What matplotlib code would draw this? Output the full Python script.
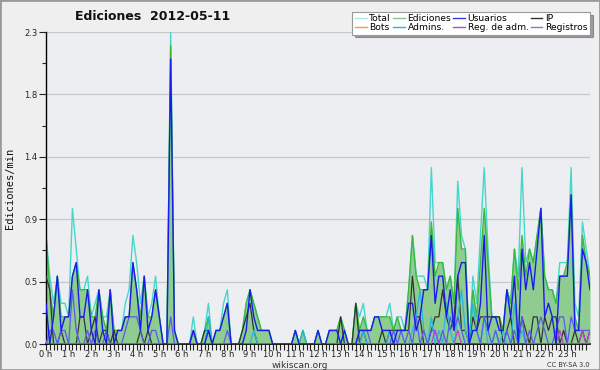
import matplotlib
matplotlib.use("Agg")
import matplotlib.pyplot as plt
import numpy as np
from matplotlib.lines import Line2D
from matplotlib.patches import Rectangle

# 10-minute bins, 0:00 .. 24:00 (edits per minute)
total = [0.8, 0.5, 0.3, 0.5, 0.3, 0.3,
         0.2, 1.0, 0.7, 0.4, 0.4, 0.5,
         0.2, 0.3, 0.4, 0.2, 0.2, 0.4,
         0.1, 0.1, 0.1, 0.3, 0.4, 0.8,
         0.6, 0.3, 0.5, 0.2, 0.3, 0.5,
         0.2, 0.0, 0.0, 2.3, 0.1, 0.0,
         0.0, 0.0, 0.0, 0.2, 0.0, 0.0,
         0.1, 0.3, 0.0, 0.1, 0.1, 0.3,
         0.4, 0.0, 0.0, 0.0, 0.1, 0.3,
         0.4, 0.3, 0.2, 0.1, 0.1, 0.1,
         0.0, 0.0, 0.0, 0.0, 0.0, 0.0,
         0.1, 0.0, 0.1, 0.0, 0.0, 0.0,
         0.1, 0.0, 0.0, 0.1, 0.1, 0.1,
         0.2, 0.1, 0.0, 0.0, 0.3, 0.2,
         0.3, 0.1, 0.1, 0.2, 0.2, 0.2,
         0.2, 0.3, 0.1, 0.2, 0.2, 0.1,
         0.4, 0.8, 0.5, 0.5, 0.5, 0.4,
         1.3, 0.6, 0.6, 0.6, 0.4, 0.5,
         0.3, 1.2, 0.8, 0.7, 0.0, 0.5,
         0.3, 0.8, 1.3, 0.7, 0.2, 0.2,
         0.2, 0.1, 0.4, 0.3, 0.7, 0.5,
         1.3, 0.6, 0.7, 0.6, 0.8, 1.0,
         0.5, 0.4, 0.4, 0.3, 0.6, 0.6,
         0.6, 1.3, 0.3, 0.2, 0.9, 0.7,
         0.5]

ediciones = [0.8, 0.4, 0.2, 0.5, 0.2, 0.2,
             0.2, 0.5, 0.6, 0.4, 0.4, 0.4,
             0.2, 0.2, 0.4, 0.2, 0.1, 0.4,
             0.1, 0.1, 0.1, 0.2, 0.2, 0.6,
             0.4, 0.2, 0.5, 0.2, 0.2, 0.4,
             0.2, 0.0, 0.0, 2.2, 0.1, 0.0,
             0.0, 0.0, 0.0, 0.1, 0.0, 0.0,
             0.1, 0.2, 0.0, 0.1, 0.1, 0.2,
             0.3, 0.0, 0.0, 0.0, 0.1, 0.3,
             0.4, 0.3, 0.2, 0.1, 0.1, 0.1,
             0.0, 0.0, 0.0, 0.0, 0.0, 0.0,
             0.1, 0.0, 0.1, 0.0, 0.0, 0.0,
             0.1, 0.0, 0.0, 0.1, 0.1, 0.1,
             0.2, 0.1, 0.0, 0.0, 0.3, 0.1,
             0.2, 0.1, 0.1, 0.2, 0.2, 0.2,
             0.2, 0.2, 0.1, 0.2, 0.1, 0.1,
             0.4, 0.8, 0.5, 0.4, 0.4, 0.4,
             0.9, 0.5, 0.6, 0.6, 0.4, 0.5,
             0.3, 1.0, 0.7, 0.7, 0.0, 0.4,
             0.2, 0.6, 1.0, 0.6, 0.2, 0.2,
             0.2, 0.1, 0.4, 0.3, 0.7, 0.4,
             0.8, 0.5, 0.7, 0.6, 0.8, 1.0,
             0.5, 0.4, 0.4, 0.3, 0.5, 0.5,
             0.6, 1.1, 0.2, 0.1, 0.8, 0.6,
             0.5]

usuarios = [0.3, 0.0, 0.2, 0.5, 0.1, 0.2,
            0.2, 0.5, 0.6, 0.2, 0.2, 0.4,
            0.1, 0.0, 0.4, 0.1, 0.0, 0.4,
            0.0, 0.1, 0.1, 0.2, 0.2, 0.6,
            0.4, 0.1, 0.5, 0.1, 0.2, 0.4,
            0.2, 0.0, 0.0, 2.1, 0.1, 0.0,
            0.0, 0.0, 0.0, 0.1, 0.0, 0.0,
            0.0, 0.1, 0.0, 0.1, 0.1, 0.2,
            0.3, 0.0, 0.0, 0.0, 0.0, 0.1,
            0.4, 0.2, 0.1, 0.1, 0.1, 0.1,
            0.0, 0.0, 0.0, 0.0, 0.0, 0.0,
            0.1, 0.0, 0.0, 0.0, 0.0, 0.0,
            0.1, 0.0, 0.0, 0.1, 0.1, 0.1,
            0.0, 0.1, 0.0, 0.0, 0.0, 0.1,
            0.1, 0.1, 0.1, 0.2, 0.2, 0.1,
            0.1, 0.1, 0.0, 0.1, 0.1, 0.1,
            0.3, 0.3, 0.1, 0.2, 0.4, 0.4,
            0.8, 0.3, 0.5, 0.5, 0.2, 0.4,
            0.1, 0.5, 0.6, 0.6, 0.0, 0.1,
            0.1, 0.3, 0.8, 0.1, 0.2, 0.2,
            0.1, 0.1, 0.4, 0.2, 0.5, 0.0,
            0.7, 0.4, 0.6, 0.4, 0.7, 1.0,
            0.2, 0.3, 0.2, 0.0, 0.5, 0.5,
            0.5, 1.1, 0.1, 0.1, 0.7, 0.6,
            0.4]

ip = [0.5, 0.4, 0.0, 0.0, 0.1, 0.0,
      0.0, 0.0, 0.0, 0.2, 0.2, 0.0,
      0.1, 0.2, 0.0, 0.1, 0.1, 0.0,
      0.1, 0.0, 0.0, 0.0, 0.0, 0.0,
      0.0, 0.1, 0.0, 0.1, 0.0, 0.0,
      0.0, 0.0, 0.0, 0.0, 0.0, 0.0,
      0.0, 0.0, 0.0, 0.0, 0.0, 0.0,
      0.1, 0.1, 0.0, 0.0, 0.0, 0.0,
      0.0, 0.0, 0.0, 0.0, 0.1, 0.2,
      0.3, 0.1, 0.0, 0.0, 0.0, 0.0,
      0.0, 0.0, 0.0, 0.0, 0.0, 0.0,
      0.0, 0.0, 0.0, 0.0, 0.0, 0.0,
      0.0, 0.0, 0.0, 0.0, 0.0, 0.0,
      0.2, 0.0, 0.0, 0.0, 0.3, 0.0,
      0.1, 0.0, 0.0, 0.0, 0.0, 0.1,
      0.0, 0.1, 0.1, 0.1, 0.1, 0.1,
      0.1, 0.5, 0.2, 0.2, 0.0, 0.0,
      0.1, 0.2, 0.2, 0.4, 0.2, 0.1,
      0.2, 0.5, 0.1, 0.1, 0.0, 0.2,
      0.1, 0.2, 0.2, 0.2, 0.2, 0.2,
      0.2, 0.0, 0.1, 0.2, 0.0, 0.0,
      0.2, 0.1, 0.0, 0.2, 0.2, 0.0,
      0.2, 0.1, 0.2, 0.2, 0.0, 0.1,
      0.0, 0.0, 0.1, 0.0, 0.1, 0.0,
      0.1]

registros = [0.0, 0.1, 0.1, 0.0, 0.1, 0.1,
             0.0, 0.4, 0.1, 0.0, 0.0, 0.1,
             0.0, 0.1, 0.0, 0.0, 0.1, 0.0,
             0.0, 0.0, 0.0, 0.1, 0.2, 0.2,
             0.2, 0.1, 0.0, 0.0, 0.1, 0.1,
             0.0, 0.0, 0.0, 0.2, 0.0, 0.0,
             0.0, 0.0, 0.0, 0.1, 0.0, 0.0,
             0.0, 0.0, 0.0, 0.0, 0.0, 0.0,
             0.1, 0.0, 0.0, 0.0, 0.0, 0.0,
             0.0, 0.0, 0.0, 0.0, 0.0, 0.0,
             0.0, 0.0, 0.0, 0.0, 0.0, 0.0,
             0.0, 0.0, 0.0, 0.0, 0.0, 0.0,
             0.0, 0.0, 0.0, 0.0, 0.0, 0.0,
             0.0, 0.0, 0.0, 0.0, 0.0, 0.1,
             0.1, 0.1, 0.0, 0.0, 0.0, 0.0,
             0.0, 0.0, 0.1, 0.0, 0.1, 0.0,
             0.1, 0.0, 0.2, 0.0, 0.1, 0.0,
             0.1, 0.1, 0.0, 0.1, 0.0, 0.2,
             0.1, 0.2, 0.1, 0.0, 0.0, 0.1,
             0.1, 0.0, 0.2, 0.1, 0.0, 0.1,
             0.0, 0.0, 0.1, 0.0, 0.1, 0.0,
             0.2, 0.0, 0.1, 0.0, 0.1, 0.2,
             0.1, 0.0, 0.0, 0.1, 0.2, 0.2,
             0.0, 0.2, 0.1, 0.1, 0.1, 0.1,
             0.1]

admins = [0.0, 0.0, 0.0, 0.0, 0.0, 0.0,
          0.0, 0.0, 0.0, 0.0, 0.0, 0.0,
          0.0, 0.0, 0.0, 0.0, 0.0, 0.0,
          0.0, 0.0, 0.0, 0.0, 0.0, 0.0,
          0.0, 0.0, 0.0, 0.0, 0.0, 0.0,
          0.0, 0.0, 0.0, 0.0, 0.0, 0.0,
          0.0, 0.0, 0.0, 0.0, 0.0, 0.0,
          0.0, 0.2, 0.0, 0.0, 0.0, 0.0,
          0.0, 0.0, 0.0, 0.0, 0.0, 0.0,
          0.0, 0.1, 0.0, 0.0, 0.0, 0.0,
          0.0, 0.0, 0.0, 0.0, 0.0, 0.0,
          0.0, 0.0, 0.1, 0.0, 0.0, 0.0,
          0.0, 0.0, 0.0, 0.0, 0.0, 0.0,
          0.0, 0.0, 0.0, 0.0, 0.0, 0.0,
          0.1, 0.0, 0.0, 0.0, 0.0, 0.0,
          0.0, 0.1, 0.0, 0.0, 0.0, 0.0,
          0.0, 0.1, 0.2, 0.4, 0.1, 0.0,
          0.2, 0.0, 0.1, 0.0, 0.3, 0.1,
          0.0, 0.2, 0.4, 0.1, 0.0, 0.3,
          0.1, 0.0, 0.2, 0.0, 0.0, 0.1,
          0.0, 0.1, 0.0, 0.0, 0.3, 0.0,
          0.1, 0.0, 0.0, 0.0, 0.0, 0.0,
          0.0, 0.0, 0.0, 0.0, 0.0, 0.0,
          0.0, 0.0, 0.0, 0.0, 0.0, 0.0,
          0.0]

reg_adm = [0.0, 0.0, 0.0, 0.0, 0.0, 0.0,
           0.0, 0.0, 0.0, 0.0, 0.0, 0.0,
           0.0, 0.0, 0.0, 0.0, 0.0, 0.0,
           0.0, 0.0, 0.0, 0.0, 0.0, 0.0,
           0.0, 0.0, 0.0, 0.0, 0.0, 0.0,
           0.0, 0.0, 0.0, 0.0, 0.0, 0.0,
           0.0, 0.0, 0.0, 0.0, 0.0, 0.0,
           0.0, 0.0, 0.0, 0.0, 0.0, 0.0,
           0.0, 0.0, 0.0, 0.0, 0.0, 0.0,
           0.0, 0.0, 0.0, 0.0, 0.0, 0.0,
           0.0, 0.0, 0.0, 0.0, 0.0, 0.0,
           0.0, 0.0, 0.0, 0.0, 0.0, 0.0,
           0.0, 0.0, 0.0, 0.0, 0.0, 0.0,
           0.0, 0.0, 0.0, 0.0, 0.0, 0.0,
           0.0, 0.0, 0.0, 0.0, 0.0, 0.0,
           0.0, 0.0, 0.0, 0.0, 0.0, 0.0,
           0.0, 0.0, 0.0, 0.0, 0.0, 0.0,
           0.0, 0.1, 0.0, 0.0, 0.0, 0.0,
           0.0, 0.1, 0.0, 0.0, 0.0, 0.0,
           0.0, 0.0, 0.0, 0.0, 0.0, 0.0,
           0.0, 0.0, 0.0, 0.0, 0.0, 0.0,
           0.0, 0.0, 0.0, 0.0, 0.0, 0.0,
           0.0, 0.0, 0.0, 0.0, 0.1, 0.0,
           0.0, 0.0, 0.0, 0.0, 0.1, 0.0,
           0.1]

hours = np.arange(len(total)) / 6.0
hour_labels = ["%d h" % h for h in range(24)]
ytick_vals = [0.0, 0.46, 0.92, 1.38, 1.84, 2.3]
ytick_labels = ["0.0", "0.5", "0.9", "1.4", "1.8", "2.3"]

c_total = "#45d6cc"
c_edic = "#3cb93c"
c_fill = "#8fcc8f"
c_usu = "#1a1aee"
c_ip = "#333333"
c_bots = "#f0a030"
c_adm = "#28b8dc"
c_regadm = "#c040d8"
c_reg = "#5a5af0"

fig = plt.figure(figsize=(6, 3.7), dpi=100, facecolor="#efefef")
ax = fig.add_axes([46 / 600, 26 / 370, 544 / 600, 312 / 370])
ax.set_facecolor("#eceef1")

ax.fill_between(hours, 0, ediciones, color=c_fill, lw=0, zorder=1)
ax.plot(hours, total, color=c_total, lw=1.0, zorder=2)
ax.plot(hours, ediciones, color=c_edic, lw=1.0, zorder=2)
ax.plot(hours, ip, color=c_ip, lw=0.9, zorder=3)
ax.plot(hours, admins, color=c_adm, lw=0.9, zorder=3)
ax.plot(hours, registros, color=c_reg, lw=0.9, zorder=3)
ax.plot(hours, reg_adm, color=c_regadm, lw=0.9, zorder=3)
ax.plot(hours, usuarios, color=c_usu, lw=1.0, zorder=4)

ax.set_xlim(0, 24)
ax.set_ylim(0, 2.3)
ax.set_xticks(range(24))
ax.set_xticklabels(hour_labels)
ax.set_xticks(np.arange(0, 24, 1 / 6), minor=True)
ax.set_yticks(ytick_vals)
ax.set_yticklabels(ytick_labels)
ax.set_yticks([0.23, 0.69, 1.15, 1.61, 2.07], minor=True)
ax.tick_params(axis="both", which="both", direction="out", labelsize=6,
               colors="#222222", pad=1)
ax.tick_params(axis="x", which="major", length=4, width=0.8, pad=0.5)
ax.tick_params(axis="x", which="minor", length=4, width=0.8)
ax.tick_params(axis="y", which="major", length=5, width=0.8)
ax.tick_params(axis="y", which="minor", length=3, width=0.8)
ax.grid(axis="y", color="#c8c8c8", lw=0.9)
ax.set_axisbelow(True)
for s in ["top", "right"]:
    ax.spines[s].set_visible(False)
ax.spines["left"].set_linewidth(1.0)
ax.spines["bottom"].set_linewidth(1.2)

fig.text(0.255, 0.955, "Ediciones  2012-05-11", ha="center", va="center",
         fontsize=9, fontweight="bold", color="#111111")
fig.text(0.017, 0.49, "Ediciones/min", rotation=90, ha="center", va="center",
         fontsize=7.5, family="DejaVu Sans Mono", color="#111111")
fig.text(0.5, 0.013, "wikiscan.org", ha="center", va="center", fontsize=6.5,
         color="#333333")
fig.text(0.983, 0.013, "CC BY-SA 3.0", ha="right", va="center", fontsize=4.8,
         color="#333333")

handles = [Line2D([], [], color="#a8e8e4", lw=1), Line2D([], [], color=c_bots, lw=1),
           Line2D([], [], color="#80cc80", lw=1), Line2D([], [], color=c_adm, lw=1),
           Line2D([], [], color="#3a3ad8", lw=1), Line2D([], [], color=c_regadm, lw=1),
           Line2D([], [], color=c_ip, lw=1), Line2D([], [], color="#7a7ae8", lw=1)]
labels = ["Total", "Bots", "Ediciones", "Admins.", "Usuarios", "Reg. de adm.",
          "IP", "Registros"]
leg = fig.legend(handles, labels, ncol=4, loc="upper right",
                 bbox_to_anchor=(590 / 600, 358 / 370), fontsize=6.6,
                 frameon=True, fancybox=False, shadow=True, handlelength=1.3,
                 handletextpad=0.3, columnspacing=0.2, labelspacing=0.0,
                 borderpad=0.25, borderaxespad=0)
leg.get_frame().set_edgecolor("#999999")
leg.get_frame().set_facecolor("#ffffff")
leg.get_frame().set_linewidth(0.8)

fig.patches.append(Rectangle((0, 0), 1, 1, transform=fig.transFigure, fill=False,
                             edgecolor="#9a9a9a", lw=2))

fig.savefig("out.png", dpi=100, facecolor=fig.get_facecolor())
